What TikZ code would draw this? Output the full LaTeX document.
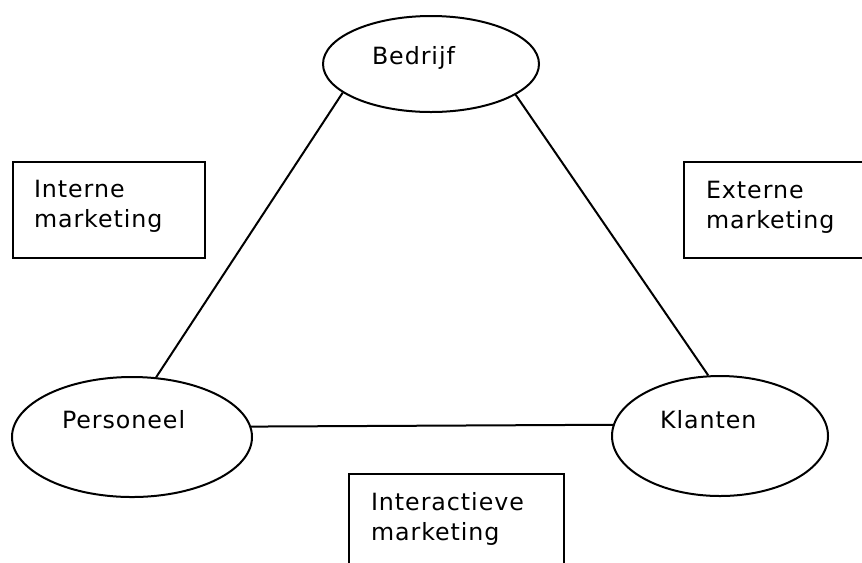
\documentclass[tikz,border=0pt]{standalone}
\usepackage{fontspec}
\setmainfont{DejaVu Sans}[LetterSpace=4]
\usetikzlibrary{shapes.geometric}
\begin{document}
\begin{tikzpicture}[x=0.75pt,y=-0.75pt,
  line width=1.5pt,
  party/.style={draw, ellipse, inner sep=0pt},
  areabox/.style={draw, rectangle, inner sep=0pt, anchor=north west},
  lbl/.style={inner sep=0pt, anchor=base west, font=\fontsize{17.8pt}{22pt}\selectfont, align=left}
]
\useasboundingbox (0,0) rectangle (862,562);
\clip (0,0) rectangle (862,562);

% the three parties
\node[party, minimum width=216*0.75pt, minimum height=96*0.75pt] (bedrijf) at (431,64) {};
\node[party, minimum width=240*0.75pt, minimum height=120*0.75pt] (personeel) at (132,437) {};
\node[party, minimum width=216*0.75pt, minimum height=120*0.75pt] (klanten) at (720,436) {};

\node[lbl] (tb) at (371,64) {Bedrijf};
\node[lbl] (tp) at (61,428) {Personeel};
\node[lbl] (tk) at (659,428) {Klanten};

% relations between the parties
\draw (bedrijf.198) -- (personeel.68);
\draw (bedrijf.340) -- (klanten.101);
\draw (personeel.5.7) -- (klanten.174);

% marketing boxes
\node[areabox, minimum width=192*0.75pt, minimum height=96*0.75pt] (interne) at (12,161) {};
\node[areabox, minimum width=200*0.75pt, minimum height=96*0.75pt] (externe) at (683,161) {};
\node[areabox, minimum width=215*0.75pt, minimum height=120*0.75pt] (interactieve) at (348,473) {};

% anchored at the baseline of the second line
\node[lbl] (ti) at (33,227) {Interne\\marketing};
\node[lbl] (te) at (705,228) {Externe\\marketing};
\node[lbl] (tx) at (370,540) {Interactieve\\marketing};
\end{tikzpicture}
\end{document}
